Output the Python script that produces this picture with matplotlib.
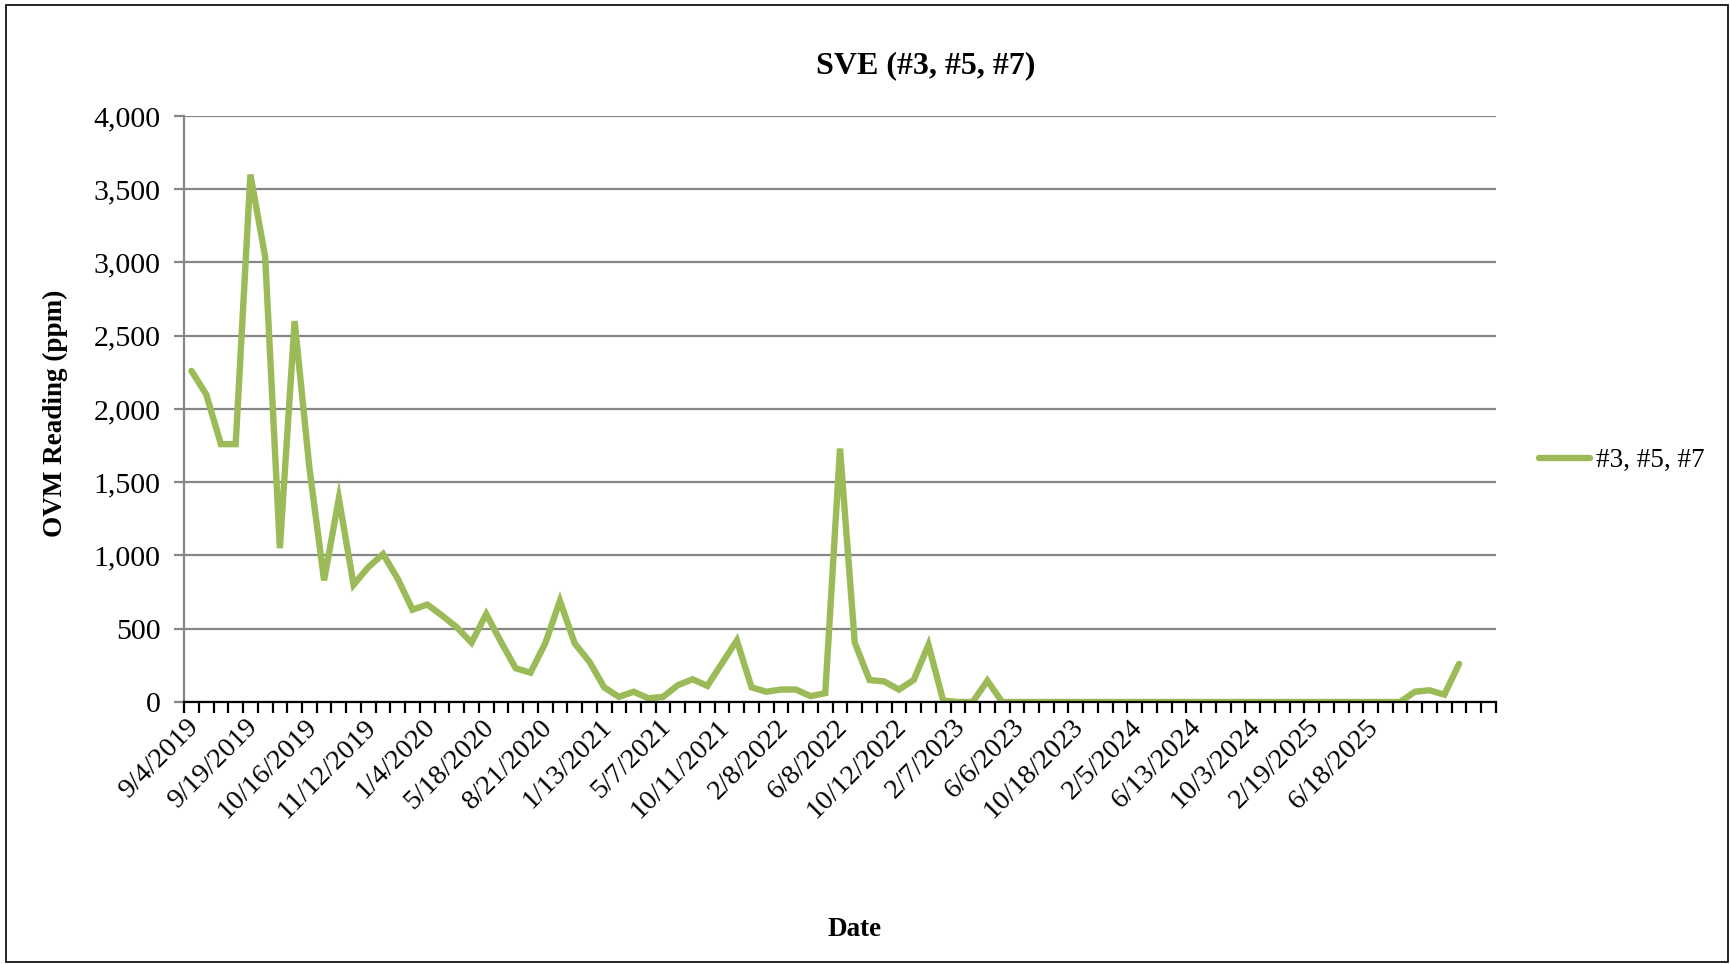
import matplotlib
matplotlib.use("Agg")
import matplotlib.pyplot as plt
from matplotlib.patches import Rectangle
from matplotlib.ticker import FuncFormatter, FixedLocator
from matplotlib.transforms import ScaledTranslation

# ---- data ----
series_name = "#3, #5, #7"
ovm_values = [2260, 2100, 1760, 1760, 3600, 3040, 1050, 2600, 1600, 830,
              1390, 800, 920, 1010, 840, 630, 665, 590, 510, 405,
              600, 410, 230, 200, 400, 690, 400, 275, 100, 35,
              70, 25, 35, 115, 155, 110, 265, 420, 100, 70,
              85, 85, 40, 60, 1730, 405, 150, 140, 85, 150,
              390, 10, 0, 0, 145, 0, 0, 0, 0, 0,
              0, 0, 0, 0, 0, 0, 0, 0, 0, 0,
              0, 0, 0, 0, 0, 0, 0, 0, 0, 0,
              0, 0, 0, 70, 80, 50, 260]
n_categories = 89
date_labels = ["9/4/2019", "9/19/2019", "10/16/2019", "11/12/2019", "1/4/2020",
               "5/18/2020", "8/21/2020", "1/13/2021", "5/7/2021", "10/11/2021",
               "2/8/2022", "6/8/2022", "10/12/2022", "2/7/2023", "6/6/2023",
               "10/18/2023", "2/5/2024", "6/13/2024", "10/3/2024", "2/19/2025",
               "6/18/2025"]
label_step = 4
y_ticks = [0, 500, 1000, 1500, 2000, 2500, 3000, 3500, 4000]

plt.rcParams['font.family'] = ['Liberation Serif', 'DejaVu Serif']

fig = plt.figure(figsize=(17.30, 9.64), dpi=100)
ax = fig.add_axes([0.1064, 0.2718, 0.7583, 0.6079])

green = "#9BBB59"
grid_c = "#868686"

x = list(range(len(ovm_values)))
ax.plot(x, ovm_values, color=green, lw=4.6, solid_joinstyle='miter',
        solid_capstyle='round', label=series_name, zorder=3)

ax.set_xlim(-0.5, n_categories - 0.5)
ax.set_ylim(0, 4000)
ax.set_yticks(y_ticks)
ax.yaxis.set_major_formatter(FuncFormatter(lambda v, p: f"{int(v):,}"))
ax.grid(axis='y', color=grid_c, lw=1.6, zorder=1)
ax.set_axisbelow(True)

# x ticks: marks at category boundaries, labels every 4th category
ax.xaxis.set_major_locator(FixedLocator([i - 0.5 for i in range(n_categories + 1)]))
ax.xaxis.set_major_formatter(FuncFormatter(lambda v, p: ""))
label_pos = [i * label_step for i in range(len(date_labels))]
ax.xaxis.set_minor_locator(FixedLocator(label_pos))
ax.set_xticks(label_pos, date_labels, minor=True)
ax.tick_params(axis='x', which='major', direction='out', length=8, width=1.6,
               color='black')
ax.tick_params(axis='x', which='minor', length=0, labelsize=20.5, pad=9)
offset = ScaledTranslation(-5 / 100, 0, fig.dpi_scale_trans)
for lab in ax.get_xticklabels(minor=True):
    lab.set_rotation(45)
    lab.set_ha('right')
    lab.set_rotation_mode('anchor')
    lab.set_transform(lab.get_transform() + offset)
ax.tick_params(axis='y', direction='out', length=7, width=1.6, color=grid_c,
               labelsize=21.5, pad=10)

for s in ['top', 'right']:
    ax.spines[s].set_visible(False)
ax.spines['left'].set_color(grid_c)
ax.spines['left'].set_linewidth(1.6)
ax.spines['bottom'].set_color('black')
ax.spines['bottom'].set_linewidth(1.6)
ax.spines['bottom'].set_zorder(4)

fig.text(0.535, 0.932, "SVE (#3, #5, #7)", ha='center', va='center',
         fontsize=23, fontweight='bold')
fig.text(0.0318, 0.571, "OVM Reading (ppm)", ha='center', va='center',
         rotation=90, fontsize=19.5, fontweight='bold')
fig.text(0.494, 0.036, "Date", ha='center', va='center',
         fontsize=19.5, fontweight='bold')

leg = fig.legend(loc='center left', bbox_to_anchor=(0.8895, 0.522),
                 frameon=False, fontsize=19.5, handlelength=1.9,
                 handletextpad=0.2, borderpad=0, borderaxespad=0)

fig.patches.append(Rectangle((0.0032, 0.002), 0.9956, 0.9923,
                             transform=fig.transFigure, fill=False,
                             edgecolor='black', lw=1.2))

fig.savefig("out.png", dpi=100)
